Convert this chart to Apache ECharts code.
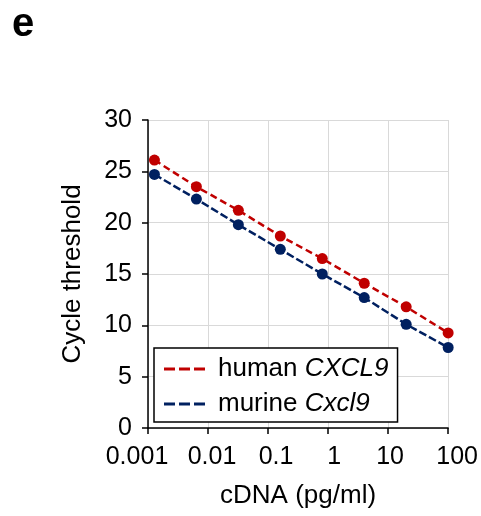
<!DOCTYPE html>
<html>
<head>
<meta charset="utf-8">
<script src="https://cdn.jsdelivr.net/npm/echarts@6/dist/echarts.min.js"></script>
<style>html,body{margin:0;padding:0;background:#fff;}#c{width:481px;height:516px;}</style>
</head>
<body>
<div id="c"></div>
<script>
const concentrations = [0.00128, 0.0064, 0.032, 0.16, 0.8, 4, 20, 100];
const humanCt = [26.1, 23.5, 21.2, 18.7, 16.5, 14.1, 11.8, 9.26];
const murineCt = [24.7, 22.3, 19.8, 17.4, 15.0, 12.7, 10.1, 7.84];
const xTickLabels = ['0.001', '0.01', '0.1', '1', '10', '100'];
const seriesNames = ['human CXCL9', 'murine Cxcl9'];

const font = 'Liberation Sans, Arial, sans-serif';
const chart = echarts.init(document.getElementById('c'), null, {renderer: 'canvas'});
const dashIcon = 'path://M0,0h11v3h-11z M15,0h11v3h-11z M30,0h11v3h-11z';

// horizontal nudges of the x tick labels, as in the original layout
const labelShift = [-11, 4, 8, 6, 2, 9];
const rich = {};
labelShift.forEach(function (s, k) {
  rich['l' + k] = {
    fontFamily: font, fontSize: 25, color: '#000',
    padding: s < 0 ? [0, -2 * s, 0, 0] : [0, 0, 0, 2 * s]
  };
});

chart.setOption({
  animation: false,
  backgroundColor: '#fff',
  title: {
    text: 'e', left: 7, top: 0,
    textStyle: {fontFamily: font, fontWeight: 'bold', fontSize: 40, color: '#000'}
  },
  grid: {left: 148, right: 32, top: 120, bottom: 88, containLabel: false},
  xAxis: {
    type: 'log', logBase: 10, min: 0.001, max: 100,
    name: 'cDNA (pg/ml)', nameLocation: 'middle', nameGap: 55,
    nameTextStyle: {fontFamily: font, fontSize: 26, color: '#000'},
    axisLine: {show: true, onZero: false, lineStyle: {color: '#000', width: 1.5}},
    axisTick: {show: true, inside: false, length: 6, lineStyle: {color: '#000', width: 1.5}},
    minorTick: {show: false},
    axisLabel: {
      fontFamily: font, fontSize: 25, color: '#000', margin: 17, hideOverlap: false,
      formatter: function (v) {
        const k = Math.round(Math.log10(v)) + 3;
        return xTickLabels[k] !== undefined ? '{l' + k + '|' + xTickLabels[k] + '}' : '';
      },
      rich: rich
    },
    splitLine: {show: true, lineStyle: {color: '#d9d9d9', width: 1}}
  },
  yAxis: {
    type: 'value', min: 0, max: 30, interval: 5,
    name: 'Cycle threshold', nameLocation: 'middle', nameGap: 62,
    nameTextStyle: {fontFamily: font, fontSize: 26, color: '#000'},
    axisLine: {show: true, lineStyle: {color: '#000', width: 1.5}},
    axisTick: {show: true, inside: false, length: 6, lineStyle: {color: '#000', width: 1.5}},
    axisLabel: {fontFamily: font, fontSize: 25, color: '#000', margin: 16},
    splitLine: {show: true, lineStyle: {color: '#d9d9d9', width: 1}}
  },
  legend: {
    orient: 'vertical', left: 154, top: 348,
    data: [
      {name: seriesNames[0], icon: dashIcon},
      {name: seriesNames[1], icon: dashIcon}
    ],
    itemWidth: 41, itemHeight: 3, itemGap: 7,
    padding: [7, 9, 4, 10],
    backgroundColor: '#fff', borderColor: '#000', borderWidth: 1.5, borderRadius: 0,
    selectedMode: false,
    formatter: function (name) {
      const i = name.indexOf(' ');
      return name.slice(0, i) + ' {i|' + name.slice(i + 1) + '}';
    },
    textStyle: {
      fontFamily: font, fontSize: 26, color: '#000', lineHeight: 28, padding: [0, 0, 0, 8],
      rich: {i: {fontFamily: font, fontSize: 26, fontStyle: 'italic', color: '#000', lineHeight: 28}}
    }
  },
  series: [
    {
      name: seriesNames[0], type: 'line', clip: false,
      data: concentrations.map((c, i) => [c, humanCt[i]]),
      symbol: 'circle', symbolSize: 11,
      itemStyle: {color: '#c00000'},
      lineStyle: {color: '#c00000', width: 2.5, type: [7, 4]}
    },
    {
      name: seriesNames[1], type: 'line', clip: false,
      data: concentrations.map((c, i) => [c, murineCt[i]]),
      symbol: 'circle', symbolSize: 11,
      itemStyle: {color: '#002060'},
      lineStyle: {color: '#002060', width: 2.5, type: [8, 3]}
    }
  ]
});
</script>
</body>
</html>
